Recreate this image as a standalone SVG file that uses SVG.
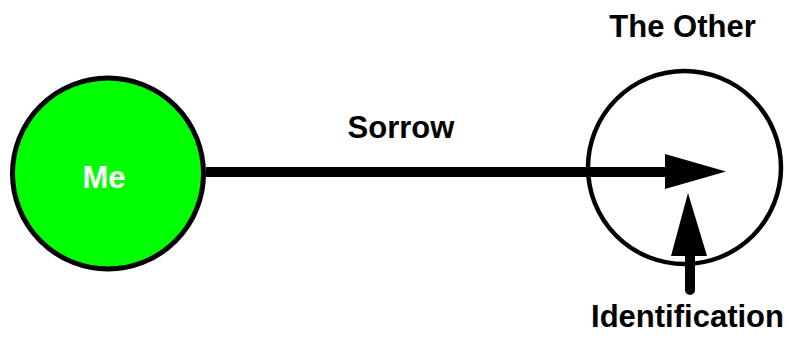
<svg xmlns="http://www.w3.org/2000/svg" width="788" height="337" viewBox="0 0 788 337">
<style>
text{font-family:"Liberation Sans",Arial,sans-serif;font-weight:bold;font-size:31px;text-anchor:middle}
.edge{stroke:#000;stroke-width:10;fill:none}
</style>
<rect width="788" height="337" fill="#fff"/>
<g id="me">
<circle cx="108" cy="173.5" r="95.5" fill="#00ff00" stroke="#000" stroke-width="5"/>
<text x="104" y="188" fill="#fff">Me</text>
</g>
<g id="other">
<circle cx="684.5" cy="167.5" r="96.5" fill="none" stroke="#000" stroke-width="4.5"/>
<text x="682.5" y="37" fill="#000">The Other</text>
</g>
<g id="connectors">
<line class="edge" x1="206" y1="172" x2="668" y2="172"/>
<polygon points="665,154 726,171.5 665,189" fill="#000"/>
<text x="401" y="138" fill="#000">Sorrow</text>
<line class="edge" x1="690" y1="290" x2="690" y2="252" stroke-linecap="round"/>
<polygon points="671,256 688,193 707,256" fill="#000"/>
<text x="687.5" y="327" fill="#000">Identification</text>
</g>
</svg>
